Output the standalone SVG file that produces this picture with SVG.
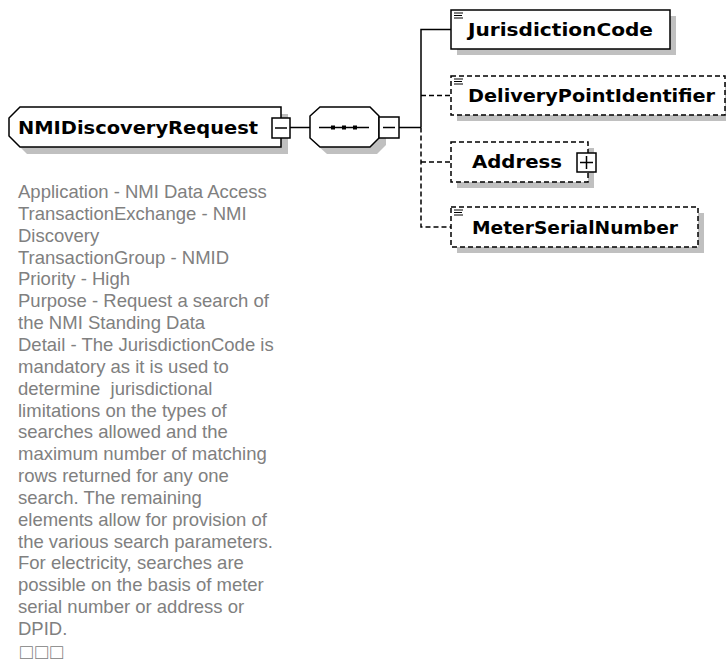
<svg xmlns="http://www.w3.org/2000/svg" width="726" height="662" viewBox="0 0 726 662">
<style>
.bg{fill:#ffffff}
.shadow{fill:#c0c0c0;stroke:none}
.box{fill:#ffffff;stroke:#000000;stroke-width:1.5}
.dbox{fill:#ffffff;stroke:#000000;stroke-width:1.5;stroke-dasharray:5 3}
.ln{stroke:#000000;stroke-width:1.5;fill:none}
.dln{stroke:#000000;stroke-width:1.5;fill:none;stroke-dasharray:5 3}
.icon{stroke:#000000;stroke-width:1;fill:none}
.name{font-family:"DejaVu Sans",sans-serif;font-weight:bold;font-size:17px;fill:#000000}
.root{font-size:18px}
.doc{font-family:"Liberation Sans",Arial,sans-serif;font-size:18.5px;fill:#808080}
.marks{font-size:21px;letter-spacing:2.5px}
</style>
<rect class="bg" x="0" y="0" width="726" height="662"/>

<g id="connectors">
  <line class="ln" x1="290" y1="127.5" x2="310" y2="127.5"/>
  <line class="ln" x1="399" y1="127.5" x2="421" y2="127.5"/>
  <polyline class="ln" points="451,29.5 421,29.5 421,127.5"/>
  <polyline class="dln" points="421,127.5 421,227 451,227"/>
  <line class="dln" x1="421" y1="95.5" x2="451" y2="95.5"/>
  <line class="dln" x1="421" y1="162" x2="451" y2="162"/>
</g>

<g id="NMIDiscoveryRequest">
  <path class="shadow" d="M27,114 L288,114 L288,154 L27,154 L16,143 L16,125 Z"/>
  <path class="box" d="M20,107 L281,107 L281,147 L20,147 L9,136 L9,118 Z"/>
  <text class="name root" x="18" y="134" textLength="240" lengthAdjust="spacingAndGlyphs">NMIDiscoveryRequest</text>
  <rect class="box" x="272" y="118" width="18" height="20"/>
  <line class="ln" x1="275" y1="128" x2="287" y2="128"/>
</g>

<g id="sequence">
  <path class="shadow" d="M327,114 L377,114 L386,123 L386,145 L377,154 L327,154 L317,145 L317,123 Z"/>
  <path class="box" d="M320,107 L370,107 L379,116 L379,138 L370,147 L320,147 L310,138 L310,116 Z"/>
  <line class="ln" x1="319" y1="127.5" x2="369" y2="127.5"/>
  <rect x="331" y="125.5" width="4" height="4" fill="#000"/>
  <rect x="342" y="125.5" width="4" height="4" fill="#000"/>
  <rect x="353" y="125.5" width="4" height="4" fill="#000"/>
  <rect class="box" x="379" y="117" width="20" height="21"/>
  <line class="ln" x1="383" y1="127.5" x2="395" y2="127.5"/>
</g>

<g id="JurisdictionCode">
  <rect class="shadow" x="457" y="16" width="219" height="39"/>
  <rect class="box" x="451" y="10" width="219" height="39"/>
  <path class="icon" d="M454,13 H463 M454,15.5 H462 M454,18 H463"/>
  <text class="name" x="468" y="36" textLength="185" lengthAdjust="spacingAndGlyphs">JurisdictionCode</text>
</g>

<g id="DeliveryPointIdentifier">
  <rect class="shadow" x="457" y="82" width="274" height="39"/>
  <rect class="dbox" x="451" y="76" width="274" height="39"/>
  <path class="icon" d="M454,79 H463 M454,81.5 H462 M454,84 H463"/>
  <text class="name" x="468" y="102" textLength="247" lengthAdjust="spacingAndGlyphs">DeliveryPointIdentifier</text>
</g>

<g id="Address">
  <rect class="shadow" x="457" y="148" width="137" height="40"/>
  <rect class="dbox" x="451" y="142" width="137" height="40"/>
  <text class="name" x="472" y="167.5" textLength="90" lengthAdjust="spacingAndGlyphs">Address</text>
  <rect class="box" x="577" y="153" width="19" height="19"/>
  <path class="ln" d="M580,162.5 H593 M586.5,156 V169"/>
</g>

<g id="MeterSerialNumber">
  <rect class="shadow" x="457" y="213" width="247" height="40"/>
  <rect class="dbox" x="451" y="207" width="247" height="40"/>
  <path class="icon" d="M454,210 H463 M454,212.5 H462 M454,215 H463"/>
  <text class="name" x="472" y="233.5" textLength="206" lengthAdjust="spacingAndGlyphs">MeterSerialNumber</text>
</g>

<g id="documentation">
  <text class="doc" x="18" y="198">Application - NMI Data Access</text>
  <text class="doc" x="18" y="219.85">TransactionExchange - NMI</text>
  <text class="doc" x="18" y="241.7">Discovery</text>
  <text class="doc" x="18" y="263.55">TransactionGroup - NMID</text>
  <text class="doc" x="18" y="285.4">Priority - High</text>
  <text class="doc" x="18" y="307.25">Purpose - Request a search of</text>
  <text class="doc" x="18" y="329.1">the NMI Standing Data</text>
  <text class="doc" x="18" y="350.95">Detail - The JurisdictionCode is</text>
  <text class="doc" x="18" y="372.8">mandatory as it is used to</text>
  <text class="doc" x="18" y="394.65" xml:space="preserve">determine  jurisdictional</text>
  <text class="doc" x="18" y="416.5">limitations on the types of</text>
  <text class="doc" x="18" y="438.35">searches allowed and the</text>
  <text class="doc" x="18" y="460.2">maximum number of matching</text>
  <text class="doc" x="18" y="482.05">rows returned for any one</text>
  <text class="doc" x="18" y="503.9">search. The remaining</text>
  <text class="doc" x="18" y="525.75">elements allow for provision of</text>
  <text class="doc" x="18" y="547.6">the various search parameters.</text>
  <text class="doc" x="18" y="569.45">For electricity, searches are</text>
  <text class="doc" x="18" y="591.3">possible on the basis of meter</text>
  <text class="doc" x="18" y="613.15">serial number or address or</text>
  <text class="doc" x="18" y="635">DPID.</text>
  <text class="doc marks" x="20" y="659">□□□</text>
</g>
</svg>
